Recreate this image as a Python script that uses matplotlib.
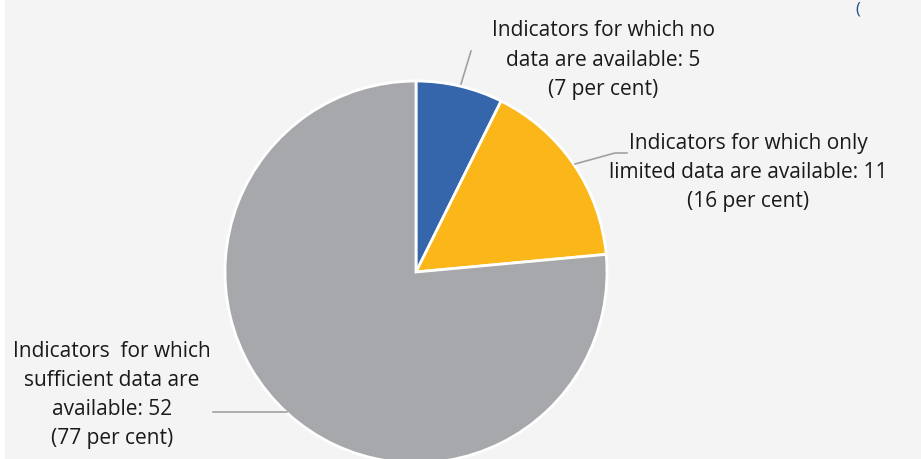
import matplotlib.pyplot as plt
from matplotlib.patches import Rectangle

# data
labels = [
    "Indicators for which no\ndata are available: 5\n(7 per cent)",
    "Indicators for which only\nlimited data are available: 11\n(16 per cent)",
    "Indicators  for which\nsufficient data are\navailable: 52\n(77 per cent)",
]
counts = [5, 11, 52]
colors = ["#3565AA", "#FBB61A", "#A7A8AB"]

W, H = 921, 460
fig = plt.figure(figsize=(W / 100, H / 100), dpi=100)
fig.patch.set_facecolor("#f4f4f4")
ax = fig.add_axes([0, 0, 1, 1])

# white strip at left edge
ax.add_patch(Rectangle((0, 0), 5, H, facecolor="white", edgecolor="none", zorder=0))

cx, cy, r = 416, H - 273, 191
ax.pie(counts, colors=colors, startangle=90, counterclock=False,
       center=(cx, cy), radius=r, frame=True,
       wedgeprops=dict(edgecolor="white", linewidth=2))
ax.set_xlim(0, W)
ax.set_ylim(0, H)
ax.axis("off")

# leader lines (pixel coords, y from top)
leaders = [
    [(461, 85), (471, 52)],
    [(575, 165), (615, 154), (627, 154)],
    [(287, 413), (213, 413)],
]
for pts in leaders:
    xs = [p[0] for p in pts]
    ys = [H - p[1] for p in pts]
    ax.plot(xs, ys, color="#a0a0a0", lw=1.2, zorder=3)

label_pos = [(603, 60), (748, 173), (112, 395)]
for txt, (x, y) in zip(labels, label_pos):
    ax.text(x, H - y, txt, ha="center", va="center", fontsize=15,
            family="Open Sans", color="#1a1a1a", linespacing=1.5)

# remnant of a heading at the top right
ax.text(858, H - 1, "(", ha="center", va="top", fontsize=12,
        color="#1F4E8C", family="Open Sans")

fig.savefig("out.png", dpi=100, facecolor=fig.get_facecolor())
